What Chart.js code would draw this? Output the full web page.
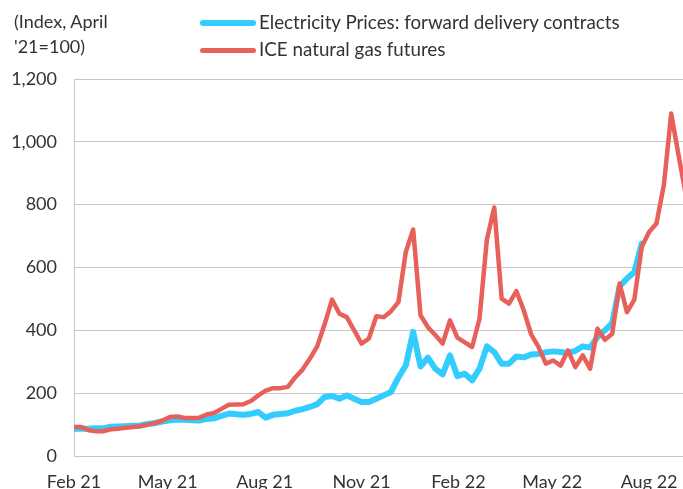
<!DOCTYPE html>
<html>
<head>
<meta charset="utf-8">
<script src="https://cdn.jsdelivr.net/npm/chart.js@4/dist/chart.umd.min.js"></script>
<style>
  html,body{margin:0;padding:0;background:#fff}
  #wrap{position:relative;width:683px;height:489px;font-family:Lato,"Open Sans",sans-serif;color:#333}
  #unit{position:absolute;left:14px;top:9px;font-size:18px;line-height:25px}
  .leg{position:absolute;left:200px;font-size:18.8px;line-height:22px;white-space:nowrap}
  .leg span{display:inline-block;width:56px;border-radius:3px;vertical-align:middle;margin-right:3px;position:relative;top:-1px}
</style>
</head>
<body>
<div id="wrap">
  <canvas id="c" width="683" height="489"></canvas>
  <div id="unit">(Index, April<br>'21=100)</div>
  <div class="leg" style="top:11px"><span style="height:6px;background:#33ccff"></span>Electricity Prices: forward delivery contracts</div>
  <div class="leg" style="top:38px"><span style="height:5px;background:#e8605a"></span>ICE natural gas futures</div>
</div>
<script>
// weekly observations, week 0 = first week of Feb 2021
var gasFutures = [92,92,82,79,79,85,87,90,92,95,100,105,113,124,126,121,121,122,132,137,
  150,163,164,165,175,193,208,216,216,220,250,275,310,350,420,498,453,442,400,358,
  374,445,442,461,490,649,721,448,410,385,358,432,377,362,347,437,689,791,501,485,
  525,464,387,347,294,304,288,336,283,320,278,405,370,389,549,458,498,665,713,740,
  862,1090,957,830];
var electricity = [87,87,87,88,88,93,94,95,96,97,102,105,110,114,116,115,114,113,118,120,
  128,135,133,131,134,140,122,131,134,136,144,149,156,165,188,191,182,193,182,172,
  172,182,193,204,250,288,395,285,313,278,260,320,254,262,241,278,349,331,294,294,
  317,314,323,325,330,333,331,328,335,349,345,379,400,423,540,565,586,676];
var tickWeeks = [0,12.71,25.86,39,52.14,64.86,78];
var tickLabels = ['Feb 21','May 21','Aug 21','Nov 21','Feb 22','May 22','Aug 22'];
var lastWeek = 82.6;

function pts(arr){ return arr.map(function(v,i){ return {x:i,y:v}; }); }

var grey = '#c6c6c6';
new Chart(document.getElementById('c'), {
  type:'line',
  data:{ datasets:[
    { label:'ICE natural gas futures', data:pts(gasFutures), borderColor:'#e8605a', borderWidth:4.5, pointRadius:0, tension:0, borderJoinStyle:'round', borderCapStyle:'round' },
    { label:'Electricity Prices: forward delivery contracts', data:pts(electricity), borderColor:'#33ccff', borderWidth:6, pointRadius:0, tension:0, borderJoinStyle:'round', borderCapStyle:'round' }
  ]},
  options:{
    responsive:false, animation:false,
    layout:{ padding:{ top:79, right:0, left:0, bottom:0 } },
    plugins:{ legend:{display:false}, tooltip:{enabled:false} },
    scales:{
      x:{
        type:'linear', min:0, max:lastWeek,
        grid:{ display:false, drawTicks:false },
        border:{ display:true, color:grey, width:1 },
        afterBuildTicks:function(ax){ ax.ticks = tickWeeks.map(function(v){ return {value:v}; }); },
        afterFit:function(ax){ ax.height = 33; ax.paddingRight = 0; ax.paddingLeft = 0; },
        ticks:{ autoSkip:false, maxRotation:0, padding:15, color:'#333',
          font:{ family:'Lato', size:18 },
          callback:function(v, i){ return tickLabels[i]; } }
      },
      y:{
        min:0, max:1200,
        grid:{ color:grey, lineWidth:1, drawTicks:false },
        border:{ display:true, color:grey, width:1 },
        afterFit:function(ax){ ax.width = 74; },
        ticks:{ stepSize:200, padding:17, color:'#333',
          font:{ family:'Lato', size:18 },
          callback:function(v){ return v.toLocaleString('en-US'); } }
      }
    }
  }
});
</script>
</body>
</html>
